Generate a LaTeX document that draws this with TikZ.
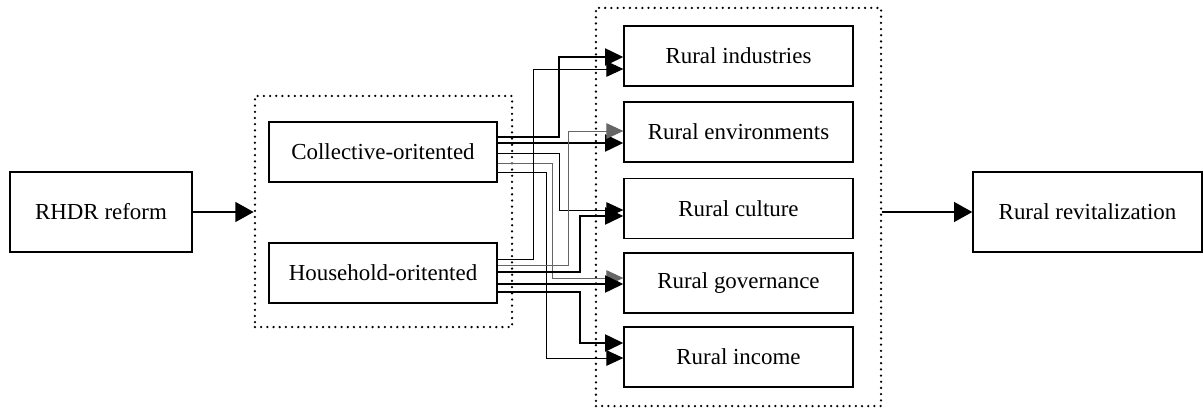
\documentclass[tikz,border=0pt]{standalone}
\usepackage{fontspec}
\setmainfont{Liberation Serif}
\usetikzlibrary{arrows.meta}
\begin{document}
\begin{tikzpicture}[x=0.025cm, y=-0.025cm,
    box/.style={draw, line width=0.9pt, inner sep=0pt, font=\fontsize{16.3}{19}\selectfont},
    grp/.style={draw, line width=1.8pt, line cap=round, dash pattern=on 0pt off 4.4pt, inner sep=0pt},
    thk/.style={line width=1.8pt, -{Triangle[length=13pt, width=12pt]}},
    thn/.style={line width=0.6pt, -{Triangle[length=12pt, width=11pt]}},
    big/.style={line width=1.6pt, -{Triangle[length=13pt, width=14pt]}}]
    \useasboundingbox (0,0) rectangle (1203,408);

    \node[grp, minimum width=6.425cm, minimum height=5.775cm] (grpL) at (383.5,211.5) {};
    \node[grp, minimum width=7.125cm, minimum height=9.95cm] (grpR) at (738.5,207) {};

    \node[box, minimum width=4.55cm, minimum height=2cm] (rhdr) at (101,212) {RHDR reform};
    \node[box, minimum width=5.7cm, minimum height=1.5cm] (coll) at (383,152) {Collective-oritented};
    \node[box, minimum width=5.7cm, minimum height=1.5cm] (hh) at (383,273) {Household-oritented};

    \node[box, minimum width=5.725cm, minimum height=1.5cm] (ind) at (738.5,56) {Rural industries};
    \node[box, minimum width=5.725cm, minimum height=1.5cm] (env) at (738.5,132) {Rural environments};
    \node[box, minimum width=5.725cm, minimum height=1.5cm] (cul) at (738.5,208.5) {Rural culture};
    \node[box, minimum width=5.725cm, minimum height=1.5cm] (gov) at (738.5,283) {Rural governance};
    \node[box, minimum width=5.725cm, minimum height=1.5cm] (inc) at (738.5,357) {Rural income};

    \node[box, minimum width=5.725cm, minimum height=2cm] (rev) at (1087.5,212) {Rural revitalization};

    \draw[big] (rhdr.east) -- (rhdr.east -| grpL.west);
    \draw[big] (rev.west -| grpR.east) -- (rev.west);

    \draw[thk] (coll.east |- 0,137) -| (559,57) -- (ind.west |- 0,57);
    \draw[thk] (coll.east |- 0,143) -- (env.west |- 0,143);
    \draw[thn] (coll.east |- 0,153) -| (559,210) -- (cul.west |- 0,210);
    \draw[thn, black!60] (coll.east |- 0,163) -| (552,278) -- (gov.west |- 0,278);
    \draw[thn] (coll.east |- 0,172) -| (546,358) -- (inc.west |- 0,358);

    \draw[thn] (hh.east |- 0,259) -| (533,69) -- (ind.west |- 0,69);
    \draw[thn, black!60] (hh.east |- 0,265) -| (568,131) -- (env.west |- 0,131);
    \draw[thk] (hh.east |- 0,272) -| (580,216) -- (cul.west |- 0,216);
    \draw[thk] (hh.east |- 0,284) -- (gov.west |- 0,284);
    \draw[thk] (hh.east |- 0,292) -| (580,343) -- (inc.west |- 0,343);
\end{tikzpicture}
\end{document}
